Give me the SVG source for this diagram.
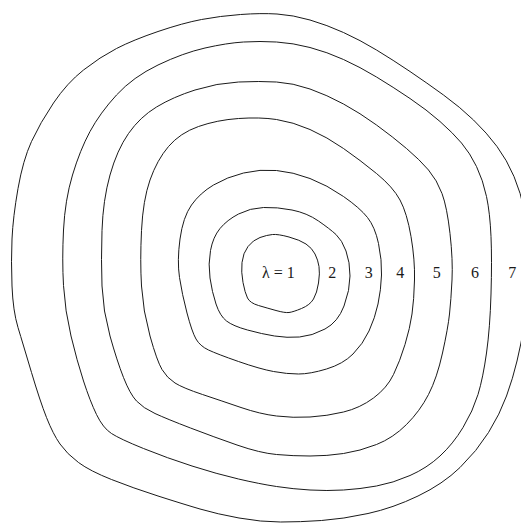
<svg xmlns="http://www.w3.org/2000/svg" width="521" height="523" viewBox="0 0 521 523">
<style>
.c{fill:none;stroke:#1a1a1a;stroke-width:1}
</style>
<rect width="521" height="523" fill="#fff"/>
<g id="contours">
<path id="c1" class="c" d="M272.5,234.5 Q278,234 289,237 Q300,240 306,244 Q312,248 315,254 Q318,260 319,266.5 Q320,273 318.5,283 Q317,293 313.5,299 Q310,305 301.5,308.5 Q293,312 289,312.5 Q285,313 276,310.5 Q267,308 258.5,305.5 Q250,303 247.5,298 Q245,293 243,282.5 Q241,272 242,262.5 Q243,253 248,246.5 Q253,240 260,237.5 Q267,235 272.5,234.5 Z"/>
<path id="c2" class="c" d="M263.5,207.5 Q277,207 292,210 Q307,213 318.5,221 Q330,229 336,234.5 Q342,240 346,251 Q350,262 350,276 Q350,290 344,306 Q338,322 325,329 Q312,336 299.5,337 Q287,338 274.5,336 Q262,334 247.5,330 Q233,326 226.5,321 Q220,316 216,304 Q212,292 210,278 Q208,264 210.5,250.5 Q213,237 220,228.5 Q227,220 238.5,214 Q250,208 263.5,207.5 Z"/>
<path id="c3" class="c" d="M243.5,173 Q260,169 276.5,170.5 Q293,172 310,178.5 Q327,185 343.5,196.5 Q360,208 367.5,217.5 Q375,227 378.5,243.5 Q382,260 381.5,275 Q381,290 378,304 Q375,318 369,331 Q363,344 353,354 Q343,364 326.5,369 Q310,374 298.5,374 Q287,374 273.5,371.5 Q260,369 238.5,361.5 Q217,354 208.5,350 Q200,346 196,339 Q192,332 187,313 Q182,294 179.5,277.5 Q177,261 180,239 Q183,217 191.5,205 Q200,193 213.5,185 Q227,177 243.5,173 Z"/>
<path id="c4" class="c" d="M238.5,118.5 Q260,117 276.5,119.5 Q293,122 310,129.5 Q327,137 343.5,148.5 Q360,160 376.5,173.5 Q393,187 400,200 Q407,213 411,236.5 Q415,260 414.5,280 Q414,300 412,314 Q410,328 405,344.5 Q400,361 393.5,374.5 Q387,388 373.5,398 Q360,408 343.5,412 Q327,416 310,417 Q293,418 276.5,416 Q260,414 241,407.5 Q222,401 202.5,394.5 Q183,388 175,383 Q167,378 162,369.5 Q157,361 150,336 Q143,311 141.5,286 Q140,261 141.5,230.5 Q143,200 150,180 Q157,160 168.5,146.5 Q180,133 198.5,126.5 Q217,120 238.5,118.5 Z"/>
<path id="c5" class="c" d="M238.5,82 Q260,81 276.5,82 Q293,83 310,89 Q327,95 343.5,104 Q360,113 376.5,125 Q393,137 406.5,148.5 Q420,160 428.5,170 Q437,180 442,193.5 Q447,207 450,233.5 Q453,260 452,280 Q451,300 449.5,314 Q448,328 442.5,353 Q437,378 428.5,394.5 Q420,411 406.5,424.5 Q393,438 376.5,444.5 Q360,451 343.5,453.5 Q327,456 310,456 Q293,456 276.5,454.5 Q260,453 237,445 Q214,437 190.5,428 Q167,419 155,413.5 Q143,408 136.5,401 Q130,394 123.5,377.5 Q117,361 110,336 Q103,311 102,286 Q101,261 102,230.5 Q103,200 110,175 Q117,150 128.5,133.5 Q140,117 156.5,107 Q173,97 195,90 Q217,83 238.5,82 Z"/>
<path id="c6" class="c" d="M243.5,42 Q260,41 276.5,42 Q293,43 310,47.5 Q327,52 343.5,59.5 Q360,67 376.5,77 Q393,87 410,98.5 Q427,110 440,121.5 Q453,133 461.5,143 Q470,153 476.5,166.5 Q483,180 486.5,196.5 Q490,213 491,236.5 Q492,260 491,294 Q490,328 486.5,353 Q483,378 478,394.5 Q473,411 463,427.5 Q453,444 440,456 Q427,468 410,475.5 Q393,483 376.5,486 Q360,489 343.5,490 Q327,491 310,490 Q293,489 276.5,486.5 Q260,484 238.5,479 Q217,474 192,466 Q167,458 143.5,448.5 Q120,439 111.5,433.5 Q103,428 96.5,414.5 Q90,401 83.5,381 Q77,361 71,336 Q65,311 63.5,285.5 Q62,260 63.5,230 Q65,200 72.5,175 Q80,150 90,131.5 Q100,113 116.5,95 Q133,77 158,65 Q183,53 205,48 Q227,43 243.5,42 Z"/>
<path id="c7" class="c" d="M240.5,14.5 Q261,13 277,14 Q293,15 310,20 Q327,25 343.5,32.5 Q360,40 376.5,50 Q393,60 410,71.5 Q427,83 443.5,95 Q460,107 473.5,120 Q487,133 497,146.5 Q507,160 514,176.5 Q521,193 524.5,211.5 Q528,230 529,250 Q530,270 528.5,290 Q527,310 524,327 Q521,344 517,361 Q513,378 506.5,396 Q500,414 488.5,432.5 Q477,451 460,467.5 Q443,484 418,496 Q393,508 368,513.5 Q343,519 321.5,520.5 Q300,522 280.5,522 Q261,522 239,518 Q217,514 200,509 Q183,504 158,496 Q133,488 111.5,479.5 Q90,471 78.5,462.5 Q67,454 60,444 Q53,434 46.5,417.5 Q40,401 31.5,372.5 Q23,344 18,327.5 Q13,311 12,286 Q11,261 12,239 Q13,217 18,188.5 Q23,160 31.5,141.5 Q40,123 53.5,103 Q67,83 83.5,70 Q100,57 116.5,48.5 Q133,40 158,31.5 Q183,23 201.5,19.5 Q220,16 240.5,14.5 Z"/>
</g>
<g id="labels" font-family="Liberation Serif, Times New Roman, serif" font-size="16" fill="#1a1a1a">
<text id="l1" x="262" y="278">λ = 1</text>
<text id="l2" x="332.3" y="278" text-anchor="middle">2</text>
<text id="l3" x="368.7" y="278" text-anchor="middle">3</text>
<text id="l4" x="400.3" y="278" text-anchor="middle">4</text>
<text id="l5" x="436.7" y="278" text-anchor="middle">5</text>
<text id="l6" x="475" y="278" text-anchor="middle">6</text>
<text id="l7" x="512.3" y="278" text-anchor="middle">7</text>
</g>
</svg>
